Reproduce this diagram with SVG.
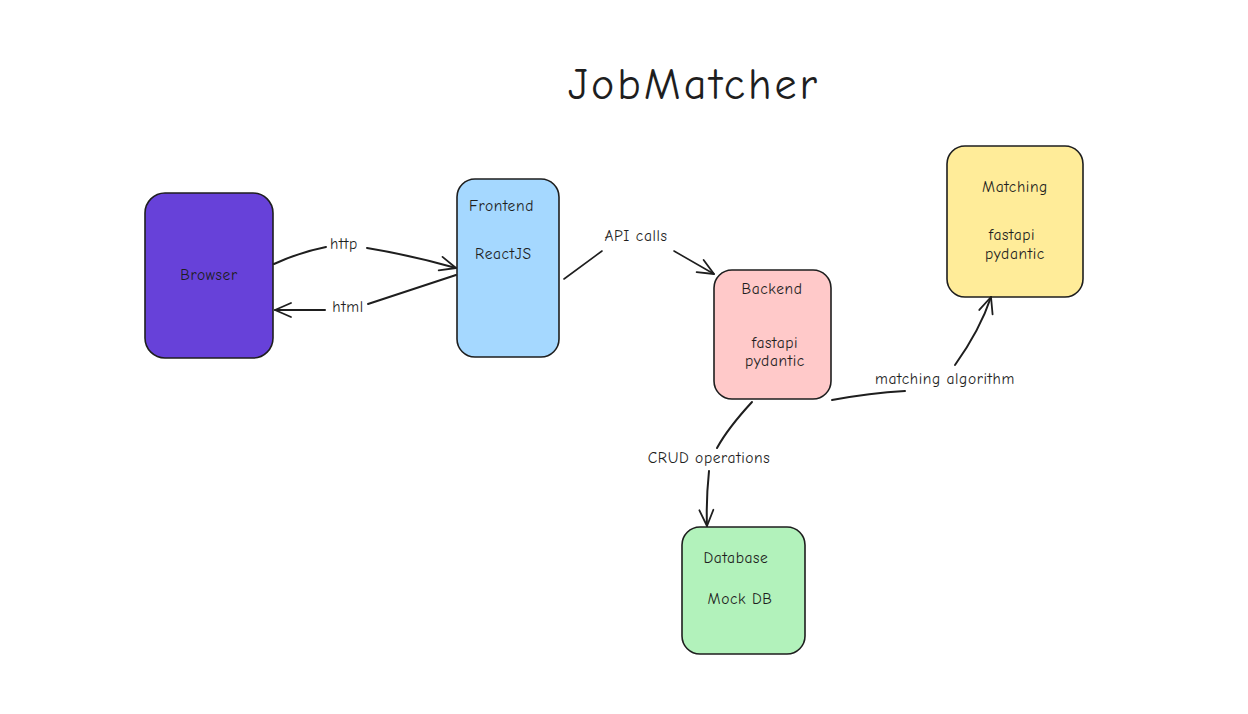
<svg xmlns="http://www.w3.org/2000/svg" width="1248" height="714" viewBox="0 0 1248 714">
<defs>
<marker id="arr" viewBox="0 0 20 20" refX="18" refY="10" markerWidth="20" markerHeight="20" markerUnits="userSpaceOnUse" orient="auto">
<path d="M2,3 L18,10 L2,17" fill="none" stroke="#1e1e1e" stroke-width="1.8" stroke-linecap="round" stroke-linejoin="round"/>
</marker>
</defs>
<style>
.box{stroke:#1e1e1e;stroke-width:1.6}
.t{font-family:"Comic Neue","Lato","Noto Sans",sans-serif;font-size:15.5px;letter-spacing:0.6px;fill:#1e1e1e}
.c{text-anchor:middle}
.e{fill:none;stroke:#1e1e1e;stroke-width:2;stroke-linecap:round}
</style>
<rect width="1248" height="714" fill="#ffffff"/>
<text x="694" y="99" class="t c" style="font-size:44px;letter-spacing:3px">JobMatcher</text>

<g id="browser">
<rect class="box" x="145" y="193" width="128" height="165" rx="20" fill="#6741d9"/>
<text x="209" y="280" class="t c">Browser</text>
</g>
<g id="frontend">
<rect class="box" x="457" y="179" width="102" height="178" rx="18" fill="#a5d8ff"/>
<text x="469" y="211" class="t">Frontend</text>
<text x="475" y="259" class="t">ReactJS</text>
</g>
<g id="backend">
<rect class="box" x="714" y="270" width="117" height="129" rx="18" fill="#ffc9c9"/>
<text x="772" y="294" class="t c">Backend</text>
<text x="775" y="348" class="t c">fastapi</text>
<text x="775" y="366" class="t c">pydantic</text>
</g>
<g id="matching">
<rect class="box" x="947" y="146" width="136" height="151" rx="18" fill="#ffec99"/>
<text x="1015" y="192" class="t c">Matching</text>
<text x="1012" y="240" class="t c">fastapi</text>
<text x="1015" y="259" class="t c">pydantic</text>
</g>
<g id="database">
<rect class="box" x="682" y="527" width="123" height="127" rx="18" fill="#b2f2bb"/>
<text x="736" y="563" class="t c">Database</text>
<text x="740" y="604" class="t c">Mock DB</text>
</g>

<g id="connectors">
<path class="e" d="M274,264 Q300,252 326,247"/>
<path class="e" d="M367,248 Q410,255 456,268" marker-end="url(#arr)"/>
<text x="344" y="249" class="t c">http</text>
<path class="e" d="M456,275 Q410,290 368,304"/>
<path class="e" d="M325,310 L275,310" marker-end="url(#arr)"/>
<text x="348" y="312" class="t c">html</text>
<path class="e" d="M564,279 L602,251" style="stroke-width:1.6"/>
<path class="e" d="M674,251 L714,274" marker-end="url(#arr)" style="stroke-width:1.6"/>
<text x="636" y="241" class="t c">API calls</text>
<path class="e" d="M832,400 Q870,393 905,391"/>
<path class="e" d="M955,365 Q980,330 991,297" marker-end="url(#arr)"/>
<text x="945" y="384" class="t c">matching algorithm</text>
<path class="e" d="M752,402 Q728,428 717,448"/>
<path class="e" d="M709,471 Q706,500 707,526" marker-end="url(#arr)"/>
<text x="709" y="463" class="t c">CRUD operations</text>
</g>
</svg>
